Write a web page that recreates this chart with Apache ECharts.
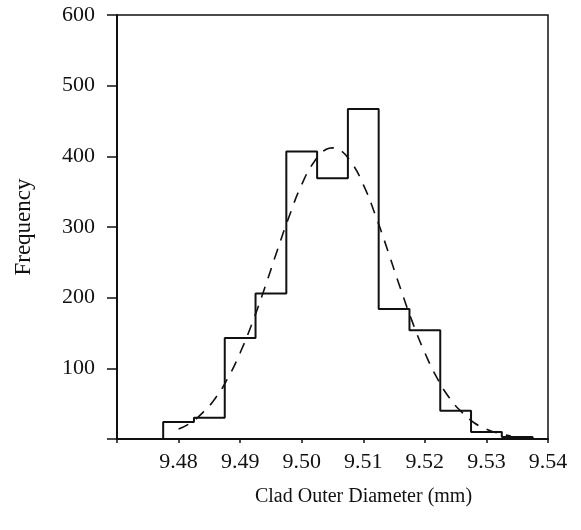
<!DOCTYPE html>
<html>
<head>
<meta charset="utf-8">
<script src="https://cdn.jsdelivr.net/npm/echarts@6/dist/echarts.min.js"></script>
<style>
  html, body { margin: 0; padding: 0; background: #fff; }
  #chart { width: 581px; height: 530px; }
</style>
</head>
<body>
<div id="chart"></div>
<script>
// Histogram bin edges (mm) and frequencies
var binEdges = [9.4775, 9.4825, 9.4875, 9.4925, 9.4975, 9.5025, 9.5075, 9.5125, 9.5175, 9.5225, 9.5275, 9.5325, 9.5375];
var binCounts = [24, 30, 143, 206, 407, 369, 467, 184, 154, 40, 10, 3];

// Fitted (dashed) curve
var fitX = [9.480, 9.482, 9.484, 9.486, 9.488, 9.490, 9.492, 9.494, 9.496, 9.498, 9.500, 9.502, 9.504, 9.505, 9.506, 9.508, 9.510, 9.512, 9.514, 9.516, 9.518, 9.520, 9.522, 9.524, 9.526, 9.528, 9.530, 9.532, 9.534];
var fitY = [14, 23, 38, 58, 86, 122, 165, 214, 266, 316, 360, 392, 410, 412, 410, 392, 360, 316, 266, 214, 165, 122, 86, 58, 38, 23, 14, 8, 4];

// Axis ticks
var xTicks = ['9.48', '9.49', '9.50', '9.51', '9.52', '9.53', '9.54'];
var yTicks = ['100', '200', '300', '400', '500', '600'];

// Build step outline from bins
var histLine = [[binEdges[0], 0]];
for (var i = 0; i < binCounts.length; i++) {
  histLine.push([binEdges[i], binCounts[i]]);
  histLine.push([binEdges[i + 1], binCounts[i]]);
}
histLine.push([binEdges[binEdges.length - 1], 0]);

var fitLine = fitX.map(function (x, i) { return [x, fitY[i]]; });

var font = 'Liberation Serif';
var ink = '#111';

var chart = echarts.init(document.getElementById('chart'), null, { renderer: 'canvas' });
chart.setOption({
  backgroundColor: '#fff',
  animation: false,
  grid: {
    left: 117, right: 33, top: 15, bottom: 91,
    outerBoundsMode: 'none',
    containLabel: false,
    show: true, borderColor: ink, borderWidth: 1.5, backgroundColor: 'transparent'
  },
  xAxis: {
    type: 'value',
    min: 9.47, max: 9.54, interval: 0.01,
    name: 'Clad Outer Diameter (mm)',
    nameLocation: 'middle',
    nameGap: 48,
    nameTextStyle: { fontFamily: font, fontSize: 20, color: ink, padding: [0, 0, 0, 62] },
    axisLine: { onZero: false, lineStyle: { color: ink, width: 2 } },
    axisTick: { show: true, length: 4, lineStyle: { color: ink, width: 1.5 } },
    splitLine: { show: false },
    axisLabel: {
      fontFamily: font, fontSize: 22, color: ink, margin: 12,
      formatter: function (v) {
        var s = v.toFixed(2);
        return xTicks.indexOf(s) >= 0 ? s : '';
      }
    }
  },
  yAxis: {
    type: 'value',
    min: 0, max: 600, interval: 100,
    name: 'Frequency',
    nameLocation: 'middle',
    nameGap: 82,
    nameTextStyle: { fontFamily: font, fontSize: 23, color: ink },
    axisLine: { show: true, lineStyle: { color: ink, width: 2 } },
    axisTick: { show: true, length: 10, lineStyle: { color: ink, width: 1.5 } },
    splitLine: { show: false },
    axisLabel: {
      fontFamily: font, fontSize: 22, color: ink, margin: 22,
      formatter: function (v) {
        var s = String(v);
        return yTicks.indexOf(s) >= 0 ? s : '';
      }
    }
  },
  series: [
    {
      type: 'line',
      data: histLine,
      showSymbol: false,
      lineStyle: { color: ink, width: 2 },
      z: 3
    },
    {
      type: 'line',
      data: fitLine,
      smooth: true,
      showSymbol: false,
      lineStyle: { color: ink, width: 1.6, type: [11, 9] },
      z: 2
    }
  ]
});
</script>
</body>
</html>
